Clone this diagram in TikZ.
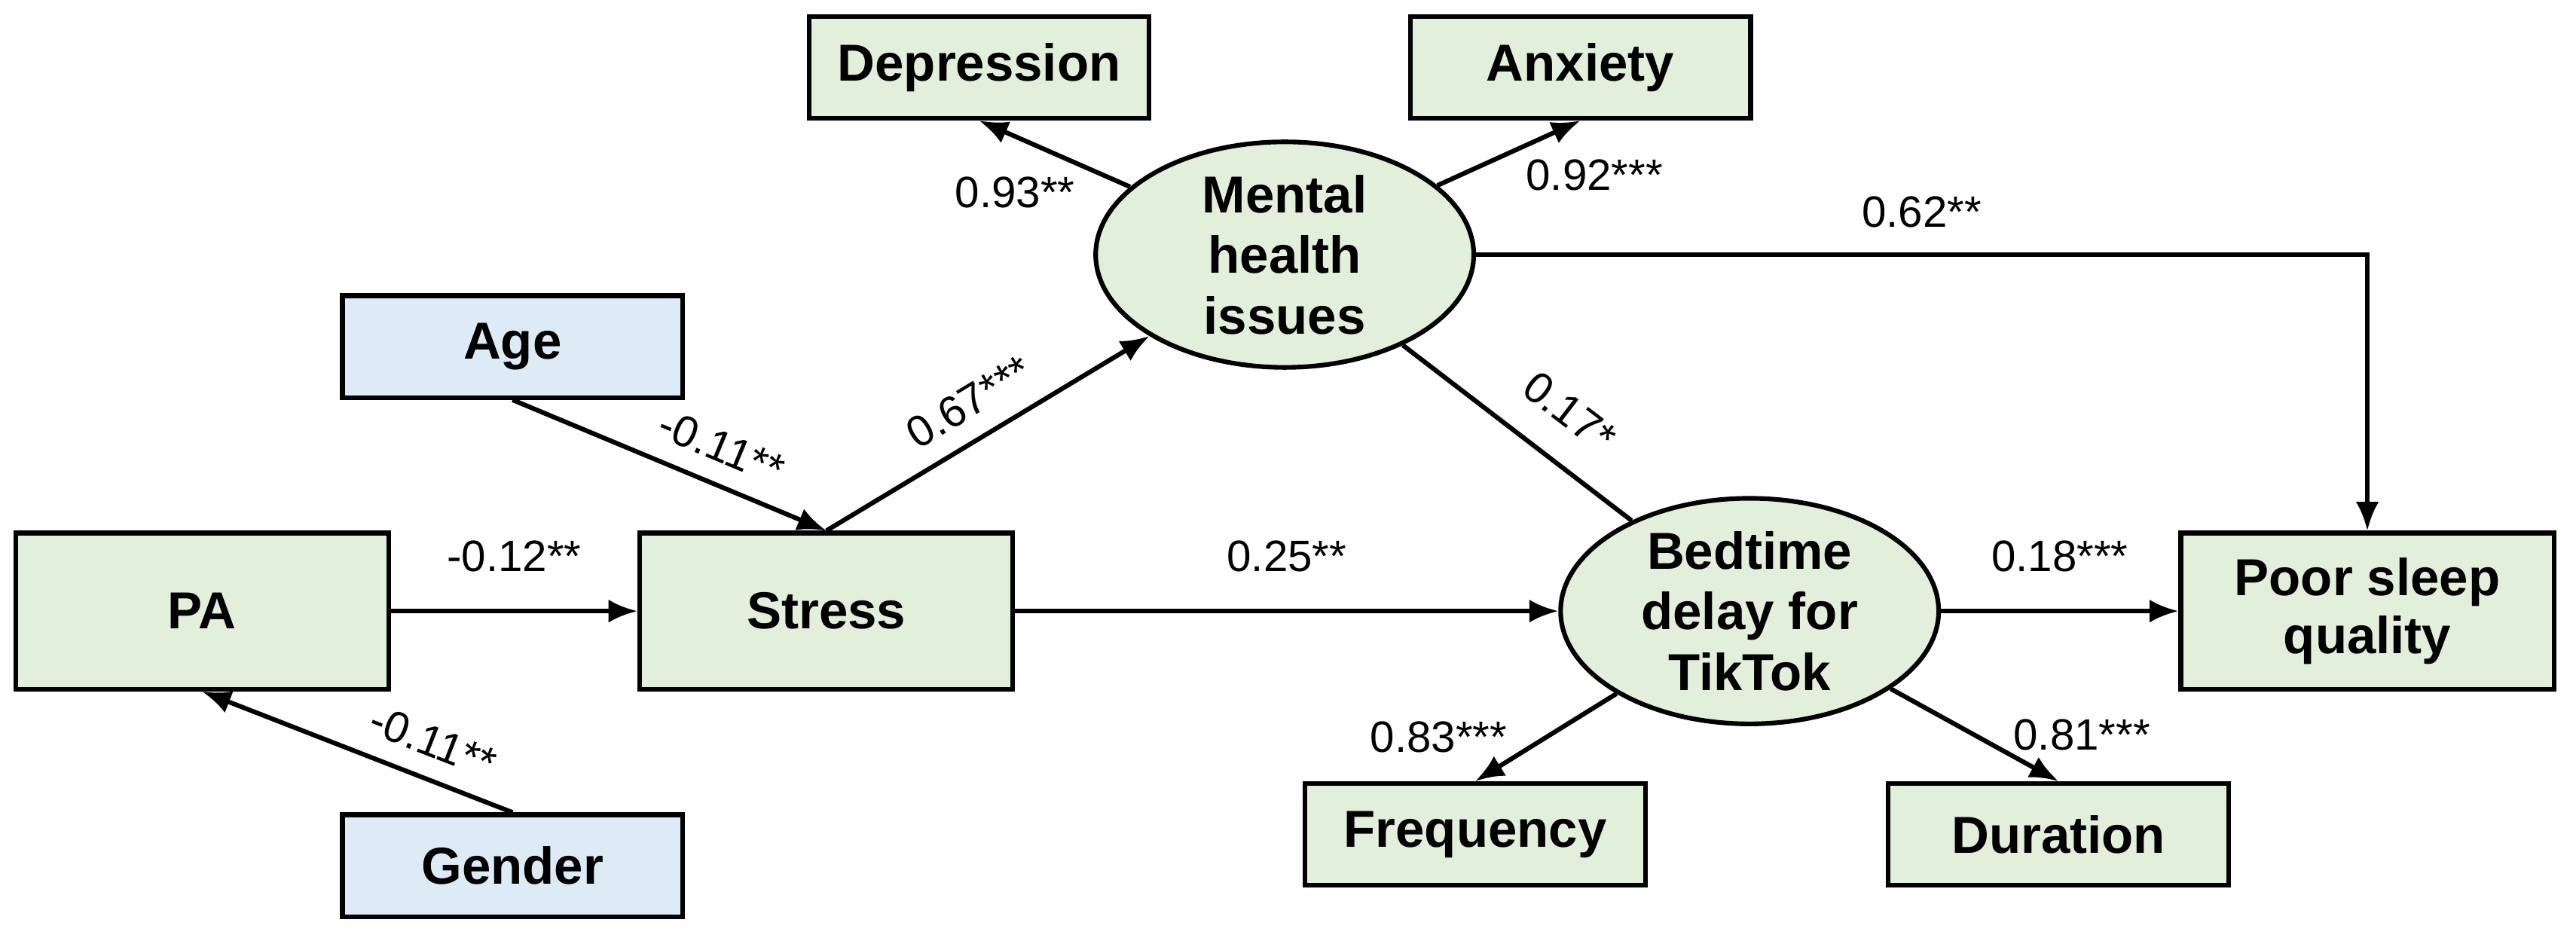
\documentclass[tikz,border=0pt]{standalone}
\usepackage{fontspec}
\setmainfont{Liberation Sans}
\usetikzlibrary{shapes.geometric,arrows.meta}
\definecolor{boxgreen}{HTML}{E2EFDA}
\definecolor{boxblue}{HTML}{DDEBF7}
\begin{document}
\begin{tikzpicture}[x=0.01cm,y=-0.01cm,
    obs/.style={draw,thick,fill=boxgreen,minimum width=2.07cm,minimum height=0.62cm,font=\fontsize{9}{10}\selectfont\bfseries},
    big/.style={obs,minimum width=2.27cm,minimum height=0.95cm,align=center},
    cov/.style={obs,fill=boxblue},
    lat/.style={draw,thick,ellipse,fill=boxgreen,minimum width=2.3cm,minimum height=1.37cm,inner sep=0pt,align=center,font=\fontsize{9}{10.5}\selectfont\bfseries},
    path/.style={thick,-{Latex[length=5pt,width=4pt]}},
    est/.style={font=\fontsize{7.6}{8}\selectfont}]
    \useasboundingbox (0,0) rectangle (1568,578);
    % Nodes
    \node[obs] (dep) at (596,41) {Depression};
    \node[obs] (anx) at (962,41) {Anxiety};
    \node[lat] (mhi) at (782,155) {Mental\\health\\issues};
    \node[cov] (age) at (312,211) {Age};
    \node[big] (pa) at (123,372) {PA};
    \node[big] (str) at (503,372) {Stress};
    \node[lat] (btd) at (1065,372) {Bedtime\\delay for\\TikTok};
    \node[big] (psq) at (1441,372) {Poor sleep\\quality};
    \node[obs] (frq) at (898,508) {Frequency};
    \node[obs] (dur) at (1253,508) {Duration};
    \node[cov] (gen) at (312,527) {Gender};
    % Paths
    \draw[path] (mhi) -- (dep.south) node[est,pos=0.3,below left=-2pt] {0.93**};
    \draw[path] (mhi) -- (anx.south) node[est,pos=0.55,below right=-2pt] {0.92***};
    \draw[path] (mhi.east) -- (psq.north |- mhi.east) node[est,midway,above=1pt] {0.62**} -- (psq.north);
    \draw[thick] (mhi) -- (btd) node[est,pos=0.6,sloped,above=2pt] {0.17*};
    \draw[path] (str.north) -- (mhi) node[est,midway,sloped,above] {0.67***};
    \draw[path] (age.south) -- (str.north) node[est,pos=0.62,sloped,above] {-0.11**};
    \draw[path] (pa) -- (str) node[est,midway,above=3pt] {-0.12**};
    \draw[path] (str) -- (btd) node[est,midway,above=3pt] {0.25**};
    \draw[path] (btd) -- (psq) node[est,midway,above=3pt] {0.18***};
    \draw[path] (btd) -- (frq.north) node[est,midway,left=3pt] {0.83***};
    \draw[path] (btd) -- (dur.north) node[est,midway,right=3pt] {0.81***};
    \draw[path] (gen.north) -- (pa.south) node[est,pos=0.3,sloped,above] {-0.11**};
\end{tikzpicture}
\end{document}
